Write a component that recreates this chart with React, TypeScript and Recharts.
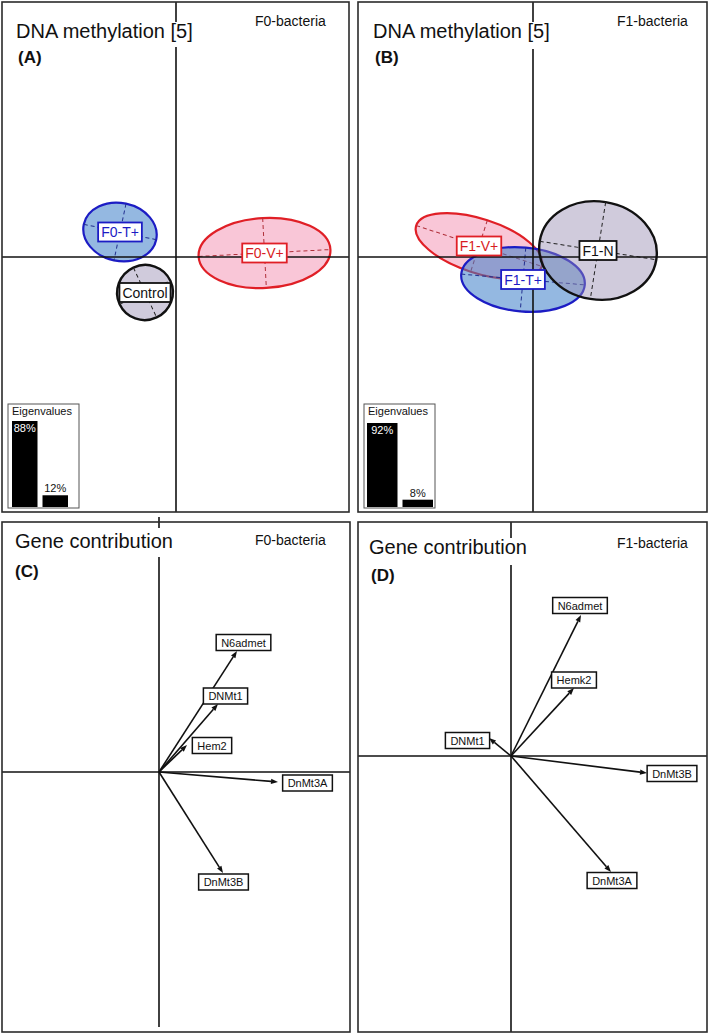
import React from "react";
import {
  Bar,
  BarChart,
  ComposedChart,
  LabelList,
  ReferenceArea,
  ReferenceDot,
  ReferenceLine,
  XAxis,
  YAxis
} from "recharts";

const FONT = '"Liberation Sans", Arial, Helvetica, sans-serif';

// Panel A - F0 bacteria group ellipses (centre, spread along both axes, tilt in degrees)
const groupsA = ["F0-T+", "F0-V+", "Control"];
const centerXA = [-0.56, 0.885, -0.31];
const centerYA = [0.25, 0.04, -0.355];
const spreadXA = [0.37, 0.66, 0.28];
const spreadYA = [0.29, 0.35, 0.275];
const tiltA = [12, -3, -25];

// Panel B - F1 bacteria group ellipses
const groupsB = ["F1-V+", "F1-T+", "F1-N"];
const centerXB = [-0.54, -0.1, 0.65];
const centerYB = [0.11, -0.225, 0.065];
const spreadXB = [0.66, 0.62, 0.59];
const spreadYB = [0.27, 0.32, 0.49];
const tiltB = [18, 5, 9];

// Eigenvalues (%)
const eigenA = [88, 12];
const eigenB = [92, 8];

// Panel C - gene loadings F0
const genesC = ["N6admet", "DNMt1", "Hem2", "DnMt3A", "DnMt3B"];
const loadXC = [0.78, 0.59, 0.28, 1.19, 0.64];
const loadYC = [1.21, 0.68, 0.27, -0.1, -1.01];
const tagXC = [0.845, 0.665, 0.53, 1.485, 0.645];
const tagYC = [1.295, 0.76, 0.265, -0.11, -1.1];

// Panel D - gene loadings F1
const genesD = ["N6admet", "Hemk2", "DNMt1", "DnMt3B", "DnMt3A"];
const loadXD = [0.7, 0.63, -0.22, 1.36, 1.0];
const loadYD = [1.41, 0.68, 0.18, -0.17, -1.16];
const tagXD = [0.69, 0.63, -0.435, 1.61, 1.01];
const tagYD = [1.505, 0.76, 0.155, -0.175, -1.245];

type Style = { stroke: string; fill: string; text: string; dash: string; width: number };

function groupStyle(name: string): Style {
  if (name.includes("T+")) return { stroke: "#1c1cc4", fill: "rgba(60,125,200,0.55)", text: "#1c1cc4", dash: "#23308f", width: 2.2 };
  if (name.includes("V+")) return { stroke: "#e01f26", fill: "rgba(240,105,150,0.38)", text: "#d81c22", dash: "#b0303a", width: 2.2 };
  return { stroke: "#111", fill: "rgba(150,140,178,0.45)", text: "#111", dash: "#222", width: 2.4 };
}

let measureCtx: CanvasRenderingContext2D | null = null;
function textWidth(t: string, font: string) {
  if (!measureCtx) measureCtx = document.createElement("canvas").getContext("2d");
  if (!measureCtx) return t.length * 7;
  measureCtx.font = font;
  return measureCtx.measureText(t).width;
}

function EllipseShape(p: any) {
  const { x, y, width, height, tilt, st } = p;
  const cx = x + width / 2;
  const cy = y + height / 2;
  const rx = Math.abs(width) / 2;
  const ry = Math.abs(height) / 2;
  return (
    <g transform={`rotate(${tilt} ${cx} ${cy})`}>
      <ellipse cx={cx} cy={cy} rx={rx} ry={ry} fill={st.fill} stroke={st.stroke} strokeWidth={st.width} />
      <line x1={cx - rx} y1={cy} x2={cx + rx} y2={cy} stroke={st.dash} strokeWidth={1} strokeDasharray="4 3" />
      <line x1={cx} y1={cy - ry} x2={cx} y2={cy + ry} stroke={st.dash} strokeWidth={1} strokeDasharray="4 3" />
    </g>
  );
}

function GroupTag(p: any) {
  const { cx, cy, label, st } = p;
  const w = textWidth(label, `14px ${FONT}`) + 6;
  const h = 19;
  return (
    <g>
      <rect x={cx - w / 2} y={cy - h / 2} width={w} height={h} fill="#fff" stroke={st.stroke} strokeWidth={1.8} />
      <text x={cx} y={cy + 5} textAnchor="middle" fontSize={14} fontFamily={FONT} fill={st.text}>
        {label}
      </text>
    </g>
  );
}

function Arrow(p: any) {
  const { x1, y1, x2, y2 } = p;
  const a = Math.atan2(y2 - y1, x2 - x1);
  const len = 7;
  const half = 2.6;
  const bx = x2 - len * Math.cos(a);
  const by = y2 - len * Math.sin(a);
  const pts = [
    `${x2},${y2}`,
    `${bx - half * Math.sin(a)},${by + half * Math.cos(a)}`,
    `${bx + half * Math.sin(a)},${by - half * Math.cos(a)}`
  ].join(" ");
  return (
    <g>
      <line x1={x1} y1={y1} x2={bx} y2={by} stroke="#111" strokeWidth={1.6} />
      <polygon points={pts} fill="#111" />
    </g>
  );
}

function GeneTag(p: any) {
  const { cx, cy, label } = p;
  const w = textWidth(label, `11px ${FONT}`) + 10;
  const h = 16;
  return (
    <g>
      <rect x={cx - w / 2} y={cy - h / 2} width={w} height={h} fill="#fff" stroke="#111" strokeWidth={1.5} />
      <text x={cx} y={cy + 4} textAnchor="middle" fontSize={11} fontFamily={FONT} fill="#111">
        {label}
      </text>
    </g>
  );
}

type Box = { left: number; top: number; width: number; height: number };

function Axes() {
  return null;
}

function GroupPanel(props: {
  box: Box;
  xDomain: [number, number];
  yDomain: [number, number];
  groups: string[];
  cx: number[];
  cy: number[];
  sx: number[];
  sy: number[];
  tilt: number[];
}) {
  const { box, xDomain, yDomain, groups, cx, cy, sx, sy, tilt } = props;
  return (
    <div style={{ position: "absolute", left: box.left, top: box.top }}>
      <ComposedChart width={box.width} height={box.height} margin={{ top: 0, right: 0, bottom: 0, left: 0 }}>
        <XAxis type="number" dataKey="x" domain={xDomain} hide allowDataOverflow />
        <YAxis type="number" dataKey="y" domain={yDomain} hide allowDataOverflow />
        <ReferenceLine x={0} stroke="#111" strokeWidth={1.6} ifOverflow="visible" />
        <ReferenceLine y={0} stroke="#111" strokeWidth={1.6} ifOverflow="visible" />
        {groups.map((g, i) => (
          <ReferenceArea
            key={`e-${g}`}
            x1={cx[i] - sx[i]}
            x2={cx[i] + sx[i]}
            y1={cy[i] - sy[i]}
            y2={cy[i] + sy[i]}
            ifOverflow="visible"
            shape={(p: any) => <EllipseShape {...p} tilt={tilt[i]} st={groupStyle(g)} />}
          />
        ))}
        {groups.map((g, i) => (
          <ReferenceDot
            key={`t-${g}`}
            x={cx[i]}
            y={cy[i]}
            r={1}
            ifOverflow="visible"
            shape={(p: any) => <GroupTag cx={p.cx} cy={p.cy} label={g} st={groupStyle(g)} />}
          />
        ))}
      </ComposedChart>
    </div>
  );
}

function GenePanel(props: {
  box: Box;
  xDomain: [number, number];
  yDomain: [number, number];
  genes: string[];
  lx: number[];
  ly: number[];
  tx: number[];
  ty: number[];
}) {
  const { box, xDomain, yDomain, genes, lx, ly, tx, ty } = props;
  return (
    <div style={{ position: "absolute", left: box.left, top: box.top }}>
      <ComposedChart width={box.width} height={box.height} margin={{ top: 0, right: 0, bottom: 0, left: 0 }}>
        <XAxis type="number" dataKey="x" domain={xDomain} hide allowDataOverflow />
        <YAxis type="number" dataKey="y" domain={yDomain} hide allowDataOverflow />
        <ReferenceLine x={0} stroke="#111" strokeWidth={1.6} ifOverflow="visible" />
        <ReferenceLine y={0} stroke="#111" strokeWidth={1.6} ifOverflow="visible" />
        {genes.map((g, i) => (
          <ReferenceLine
            key={`a-${g}`}
            segment={[
              { x: 0, y: 0 },
              { x: lx[i], y: ly[i] }
            ]}
            ifOverflow="visible"
            shape={(p: any) => <Arrow {...p} />}
          />
        ))}
        {genes.map((g, i) => (
          <ReferenceDot
            key={`g-${g}`}
            x={tx[i]}
            y={ty[i]}
            r={1}
            ifOverflow="visible"
            shape={(p: any) => <GeneTag cx={p.cx} cy={p.cy} label={g} />}
          />
        ))}
      </ComposedChart>
    </div>
  );
}

function eigenLabel(p: any) {
  const vb = p.viewBox ?? p;
  const x = vb.x ?? p.x;
  const y = vb.y ?? p.y;
  const w = vb.width ?? p.width;
  const first = p.index === 0;
  return (
    <text
      x={x + w / 2}
      y={first ? y + 11 : y - 3}
      textAnchor="middle"
      fontSize={11}
      fontFamily={FONT}
      fill={first ? "#fff" : "#111"}
    >
      {`${p.value}%`}
    </text>
  );
}

function EigenBars(props: { left: number; top: number; width: number; height: number; values: number[]; barSize: number }) {
  const { left, top, width, height, values, barSize } = props;
  const data = values.map((v, i) => ({ axis: `PC${i + 1}`, value: v }));
  return (
    <div style={{ position: "absolute", left, top }}>
      <BarChart width={width} height={height} data={data} margin={{ top: 0, right: 0, bottom: 0, left: 0 }}>
        <XAxis dataKey="axis" hide />
        <YAxis hide domain={[0, Math.max(...values)]} />
        <Bar dataKey="value" fill="#000" barSize={barSize} isAnimationActive={false}>
          <LabelList dataKey="value" content={eigenLabel} />
        </Bar>
      </BarChart>
    </div>
  );
}

export default function App() {
  const frame = { fill: "none", stroke: "#2b2b2b", strokeWidth: 1.6 };
  return (
    <div style={{ position: "absolute", left: 0, top: 0, width: 709, height: 1034, background: "#fff", fontFamily: FONT }}>
      <GroupPanel
        box={{ left: 2, top: 2, width: 347, height: 510 }}
        xDomain={[-1.74, 1.73]}
        yDomain={[-2.55, 2.55]}
        groups={groupsA}
        cx={centerXA}
        cy={centerYA}
        sx={spreadXA}
        sy={spreadYA}
        tilt={tiltA}
      />
      <GroupPanel
        box={{ left: 358, top: 2, width: 349, height: 510 }}
        xDomain={[-1.75, 1.74]}
        yDomain={[-2.55, 2.55]}
        groups={groupsB}
        cx={centerXB}
        cy={centerYB}
        sx={spreadXB}
        sy={spreadYB}
        tilt={tiltB}
      />
      <GenePanel
        box={{ left: 2, top: 517, width: 348, height: 510 }}
        xDomain={[-1.57, 1.91]}
        yDomain={[-2.55, 2.55]}
        genes={genesC}
        lx={loadXC}
        ly={loadYC}
        tx={tagXC}
        ty={tagYC}
      />
      <GenePanel
        box={{ left: 358, top: 522, width: 349, height: 510 }}
        xDomain={[-1.53, 1.96]}
        yDomain={[-2.76, 2.34]}
        genes={genesD}
        lx={loadXD}
        ly={loadYD}
        tx={tagXD}
        ty={tagYD}
      />
      <EigenBars left={9.25} top={421} width={61} height={86} values={eigenA} barSize={25.5} />
      <EigenBars left={364.25} top={423} width={71} height={84} values={eigenB} barSize={30.5} />

      <svg
        width={709}
        height={1034}
        style={{ position: "absolute", left: 0, top: 0, pointerEvents: "none" }}
        fontFamily={FONT}
      >
        <rect x={2} y={2} width={347} height={510} {...frame} />
        <rect x={358} y={2} width={349} height={510} {...frame} />
        <rect x={2} y={522} width={348} height={510} {...frame} />
        <rect x={358} y={522} width={349} height={510} {...frame} />

        {/* title backgrounds hide the axis lines */}
        <rect x={14} y={22} width={184} height={25} fill="#fff" />
        <rect x={372} y={22} width={184} height={27} fill="#fff" />
        <rect x={13} y={528} width={162} height={29} fill="#fff" />
        <rect x={367} y={538} width={162} height={27} fill="#fff" />

        <text x={16} y={38} fontSize={20} fill="#111">DNA methylation [5]</text>
        <text x={18} y={63} fontSize={17} fontWeight="bold" fill="#111">(A)</text>
        <text x={255} y={26} fontSize={14} fill="#111">F0-bacteria</text>

        <text x={373} y={38} fontSize={20} fill="#111">DNA methylation [5]</text>
        <text x={375} y={63} fontSize={17} fontWeight="bold" fill="#111">(B)</text>
        <text x={617} y={26} fontSize={14} fill="#111">F1-bacteria</text>

        <text x={15} y={548} fontSize={20} fill="#111">Gene contribution</text>
        <text x={15} y={577} fontSize={17} fontWeight="bold" fill="#111">(C)</text>
        <text x={255} y={545} fontSize={14} fill="#111">F0-bacteria</text>

        <text x={369} y={554} fontSize={20} fill="#111">Gene contribution</text>
        <text x={371} y={581} fontSize={17} fontWeight="bold" fill="#111">(D)</text>
        <text x={617} y={548} fontSize={14} fill="#111">F1-bacteria</text>

        <rect x={8} y={404} width={71} height={104} fill="none" stroke="#555" strokeWidth={1} />
        <text x={12} y={415} fontSize={11} fill="#111">Eigenvalues</text>
        <rect x={364} y={404} width={71} height={104} fill="none" stroke="#555" strokeWidth={1} />
        <text x={368} y={415} fontSize={11} fill="#111">Eigenvalues</text>
      </svg>
    </div>
  );
}
